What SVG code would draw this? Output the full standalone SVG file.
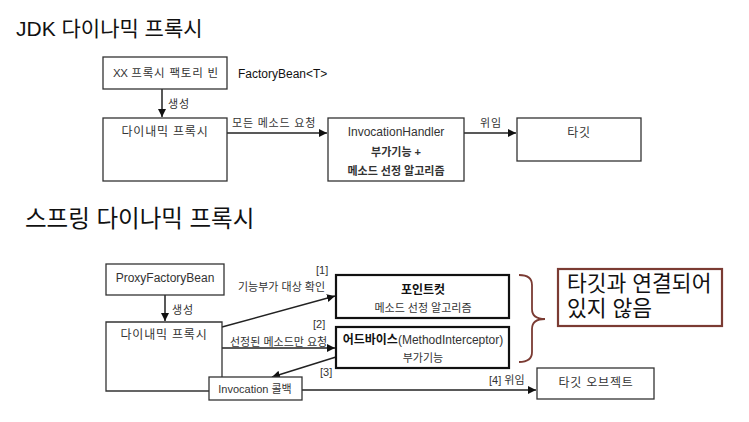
<svg xmlns="http://www.w3.org/2000/svg" width="749" height="422" viewBox="0 0 749 422">
<defs>
<style>
text{font-family:"Liberation Sans","Noto Sans CJK KR",sans-serif;fill:#333;}
.title{font-size:21px;fill:#111;}
.s{font-size:11px;}
.m{font-size:12px;}
.k{letter-spacing:0.8px;}
.b{font-weight:bold;}
.c{text-anchor:middle;}
.box{fill:#fff;stroke:#333;stroke-width:1.3;}
.thick{fill:#fff;stroke:#111;stroke-width:2.2;}
.ln{stroke:#222;stroke-width:1.5;fill:none;}
.note{fill:#fff;stroke:#7b3b33;stroke-width:2.2;}
.big{font-size:21.5px;fill:#111;}
</style>
<marker id="ah" viewBox="0 0 10 10" refX="10" refY="5" markerWidth="8" markerHeight="8" orient="auto" markerUnits="userSpaceOnUse">
<path d="M0,0 L10,5 L0,10 z" fill="#111"/>
</marker>
</defs>
<rect width="749" height="422" fill="#fff"/>
<text class="title" x="16" y="36">JDK 다이나믹 프록시</text>
<text class="title" x="25" y="227" style="font-size:23.5px">스프링 다이나믹 프록시</text>

<g id="connectors">
<line class="ln" x1="162" y1="89" x2="162" y2="117" marker-end="url(#ah)"/>
<text class="s k" x="168" y="108">생성</text>
<line class="ln" x1="227" y1="133" x2="327" y2="133" marker-end="url(#ah)"/>
<text class="s k" x="232" y="127">모든 메소드 요청</text>
<line class="ln" x1="464" y1="133" x2="516" y2="133" marker-end="url(#ah)"/>
<text class="s k" x="480" y="127">위임</text>

<line class="ln" x1="165" y1="295" x2="165" y2="321" marker-end="url(#ah)"/>
<text class="s k" x="172" y="314">생성</text>
<line class="ln" x1="222" y1="327" x2="335" y2="296" marker-end="url(#ah)"/>
<text class="s" x="316" y="274">[1]</text>
<text class="s" x="238" y="291">기능부가 대상 확인</text>
<line class="ln" x1="222" y1="348" x2="335" y2="348" marker-end="url(#ah)"/>
<text class="s" x="313" y="328">[2]</text>
<text class="s" x="230" y="346">선정된 메소드만 요청</text>
<line class="ln" x1="336" y1="357" x2="272" y2="377" marker-end="url(#ah)"/>
<text class="s" x="320" y="376">[3]</text>
<line class="ln" x1="302" y1="390" x2="536" y2="390" marker-end="url(#ah)"/>
<text class="s" x="489" y="384">[4] 위임</text>
</g>

<g id="xx-factory">
<rect class="box" x="103" y="57" width="124" height="32"/>
<text class="s c" x="166" y="77" style="font-size:11.5px"><tspan style="letter-spacing:-0.5px">XX</tspan><tspan class="k"> 프록시 팩토리 빈</tspan></text>
</g>
<text class="m" x="238" y="78" style="fill:#111">FactoryBean&lt;T&gt;</text>
<g id="jdk-proxy">
<rect class="box" x="103" y="118" width="124" height="63"/>
<text class="m c k" x="165" y="136">다이내믹 프록시</text>
</g>
<g id="invocation-handler">
<rect class="box" x="328" y="118" width="136" height="63"/>
<text class="m c" x="396" y="136">InvocationHandler</text>
<text class="s c b" x="396" y="156">부가기능 +</text>
<text class="s c b" x="396" y="175">메소드 선정 알고리즘</text>
</g>
<g id="target">
<rect class="box" x="517" y="118" width="124" height="43"/>
<text class="m c k" x="579" y="137">타깃</text>
</g>

<g id="proxy-factory-bean">
<rect class="box" x="106" y="264" width="118" height="31"/>
<text class="m c" x="165" y="282">ProxyFactoryBean</text>
</g>
<g id="spring-proxy">
<path class="box" d="M209,391 L106,391 L106,322 L222,322 L222,377" fill="none"/>
<text class="m c k" x="164" y="339">다이내믹 프록시</text>
</g>
<g id="invocation-callback">
<rect class="box" x="209" y="377" width="93" height="23"/>
<text class="s c" x="255" y="393">Invocation 콜백</text>
</g>
<g id="pointcut">
<rect class="thick" x="336" y="275" width="173" height="43"/>
<text class="m c b" x="423" y="294" style="fill:#111">포인트컷</text>
<text class="s c" x="423" y="312">메소드 선정 알고리즘</text>
</g>
<g id="advice">
<rect class="thick" x="336" y="327" width="173" height="41"/>
<text class="m c" x="423" y="344"><tspan class="b" style="fill:#111">어드바이스</tspan>(MethodInterceptor)</text>
<text class="s c" x="423" y="362">부가기능</text>
</g>
<g id="target-object">
<rect class="box" x="537" y="368" width="117" height="31"/>
<text class="m c k" x="596" y="387">타깃 오브젝트</text>
</g>
<g id="brace">
<path d="M519,275 Q532,275 532,285 L532,309 Q532,319 545,319 Q532,319 532,329 L532,352 Q532,362 519,362" fill="none" stroke="#7b3b33" stroke-width="1.8"/>
</g>
<g id="note">
<rect class="note" x="558" y="269" width="164" height="57"/>
<text class="big" x="567" y="291">타깃과 연결되어</text>
<text class="big" x="567" y="316">있지 않음</text>
</g>
</svg>
